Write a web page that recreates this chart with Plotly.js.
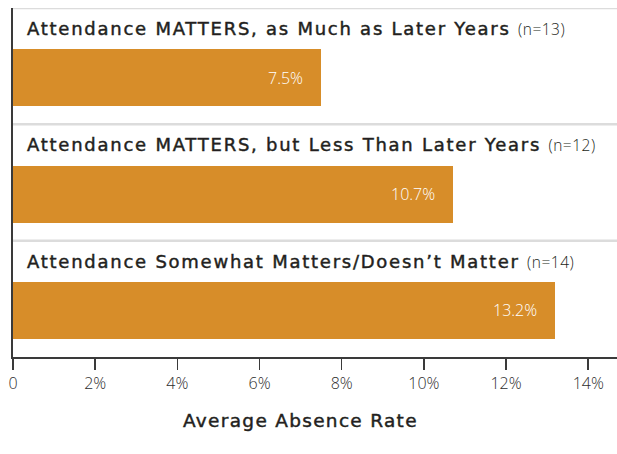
<!DOCTYPE html>
<html>
<head>
<meta charset="utf-8">
<script src="https://cdn.plot.ly/plotly-3.0.1.min.js"></script>
<style>html,body{margin:0;padding:0;background:#fff}#chart{width:617px;height:454px}</style>
</head>
<body>
<div id="chart"></div>
<script>
var categories = [
  "Attendance MATTERS, as Much as Later Years",
  "Attendance MATTERS, but Less Than Later Years",
  "Attendance Somewhat Matters/Doesn\u2019t Matter"
];
var sampleSizes = [13, 12, 14];
var absenceRates = [7.5, 10.7, 13.2];
var tickValues = [0, 2, 4, 6, 8, 10, 12, 14];
var tickLabels = ["0", "2%", "4%", "6%", "8%", "10%", "12%", "14%"];

var barColor = "#D78D29";
var textColor = "#231F20";
var headFont = "DejaVu Sans, sans-serif";
var lightFont = "Open Sans, Noto Sans, sans-serif";
var rowStyle = "letter-spacing:1.75px;stroke:#231F20;stroke-width:0.45px";
var titleStyle = "letter-spacing:1.3px;stroke:#231F20;stroke-width:0.45px";

var idx = categories.map(function (c, i) { return i; });

var trace = {
  type: "bar",
  orientation: "h",
  x: absenceRates,
  y: idx,
  width: 0.49,
  marker: { color: barColor },
  hoverinfo: "none"
};

var annotations = [];
var shapes = [];
categories.forEach(function (c, i) {
  annotations.push({
    xref: "paper", yref: "y", x: 0, y: i - 0.42,
    xanchor: "left", yanchor: "middle", xshift: 12,
    showarrow: false, align: "left",
    text: "<span style='" + rowStyle + "'>" + c + " </span><span style='font-family:Open Sans;font-size:15.5px;font-weight:300;letter-spacing:0.5px'>(n=" + sampleSizes[i] + ")</span>",
    font: { family: headFont, size: 18, color: textColor }
  });
  annotations.push({
    xref: "x", yref: "y", x: absenceRates[i], y: i,
    xanchor: "right", yanchor: "middle", xshift: -16,
    showarrow: false,
    text: absenceRates[i].toFixed(1) + "%",
    font: { family: lightFont, size: 16, color: "#ffffff", weight: 300 }
  });
  shapes.push({
    type: "line", xref: "paper", yref: "y", x0: 0, x1: 1, y0: i - 0.6, y1: i - 0.6,
    line: { color: "#DCDCDC", width: 2.5 }, layer: "below"
  });
});
annotations.push({
  xref: "x", yref: "paper", x: 7, y: 0, yanchor: "middle", yshift: -63,
  showarrow: false, text: "<span style='" + titleStyle + "'>Average Absence Rate</span>",
  font: { family: headFont, size: 18.5, color: textColor }
});

var layout = {
  width: 617, height: 454,
  margin: { l: 13, r: 0, t: 8, b: 97 },
  paper_bgcolor: "#ffffff", plot_bgcolor: "#ffffff",
  showlegend: false,
  bargap: 0,
  xaxis: {
    range: [0, 14.7], tickvals: tickValues, ticktext: tickLabels,
    showgrid: false, zeroline: false,
    showline: true, linecolor: "#3a3a3a", linewidth: 2,
    ticks: "outside", ticklen: 11, tickwidth: 1.5, tickcolor: "#3a3a3a",
    tickfont: { family: lightFont, size: 16, color: "#2e2e2e", weight: 300 },
    fixedrange: true
  },
  yaxis: {
    range: [2.4, -0.6], showticklabels: false, showgrid: false, zeroline: false,
    showline: true, linecolor: "#3a3a3a", linewidth: 2, ticks: "",
    fixedrange: true
  },
  annotations: annotations,
  shapes: shapes
};

Plotly.newPlot("chart", [trace], layout, { displayModeBar: false, staticPlot: true });
</script>
</body>
</html>
